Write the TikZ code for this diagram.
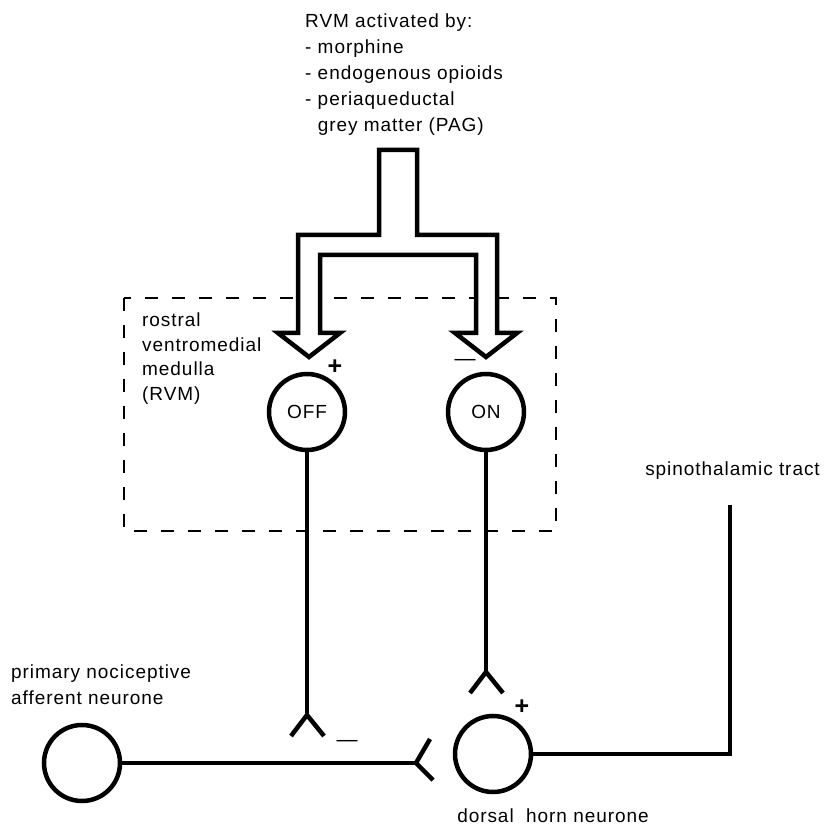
\documentclass[tikz,border=0pt]{standalone}
\usepackage{fontspec}
\setmainfont{Liberation Sans}[LetterSpace=5]
\begin{document}
\begin{tikzpicture}[x=1pt,y=-1pt,
  neurite/.style={line width=4.5pt},
  cell/.style={circle,draw,line width=4.5pt,minimum size=76pt,inner sep=0pt,font=\fontsize{19}{24}\selectfont},
  lbl/.style={inner sep=0pt,align=left,font=\fontsize{19}{26}\selectfont},
  plus/.style={inner sep=0pt,font=\fontsize{25}{25}\selectfont\bfseries},
  minus/.style={inner sep=0pt,font=\fontsize{21}{21}\selectfont}]
\useasboundingbox (0,0) rectangle (828,826);
% RVM box
\draw[line width=2.2pt,dash pattern=on 13pt off 14pt] (124,298) rectangle (556,531);
% split arrow from the top
\draw[line width=4.5pt,fill=white] (379,150) -- (417,150) -- (417,235) -- (497,235) -- (497,333)
  -- (517,333) -- (486,357) -- (455,333) -- (476,333) -- (476,255) -- (320,255) -- (320,333)
  -- (340,333) -- (309,357) -- (278,333) -- (298,333) -- (298,235) -- (379,235) -- cycle;
\node[cell] (off) at (307,412) {OFF};
\node[cell] (on) at (486,412) {ON};
\node[cell] (prim) at (82,763) {};
\node[cell] (dorsal) at (493,754) {};
\coordinate (offsyn) at (307,715);
\coordinate (onsyn) at (486,672);
\coordinate (primsyn) at (416,763);
\coordinate (tractbend) at (730,754);
\coordinate (tracttop) at (730,505);
\draw[neurite] (off) -- (offsyn);
\draw[neurite] (on) -- (onsyn);
\draw[neurite] (prim) -- (primsyn);
\draw[neurite] (dorsal) -- (tractbend) -- (tracttop);
\foreach \s in {offsyn,onsyn}
  \draw[neurite] (\s) ++(-16,21) -- (\s) -- ++(17,21);
\draw[neurite] (primsyn) ++(14,-24) -- (primsyn) -- ++(17,17);
% signs
\node[plus] (offplus) at (335,367) {+};
\node[minus] (onminus) at (465,362) {—};
\node[minus] (offminus) at (347,743) {—};
\node[plus] (dorsalplus) at (522,707) {+};
% labels
\node[lbl,anchor=north west] (activators) at (305,14) {RVM activated by:\\- morphine\\- endogenous opioids\\- periaqueductal\\\phantom{- }grey matter (PAG)};
\node[lbl,anchor=north west,font=\fontsize{19}{24.5}\selectfont] (rvm) at (142,313) {rostral\\ventromedial\\medulla\\(RVM)};
\node[lbl,anchor=north west] (primlabel) at (11,665) {primary nociceptive\\afferent neurone};
\node[lbl,anchor=north] (dorsallabel) at (553,809) {dorsal \ horn neurone};
\node[lbl,anchor=south east] (tractlabel) at (820,480) {spinothalamic tract};
\end{tikzpicture}
\end{document}
